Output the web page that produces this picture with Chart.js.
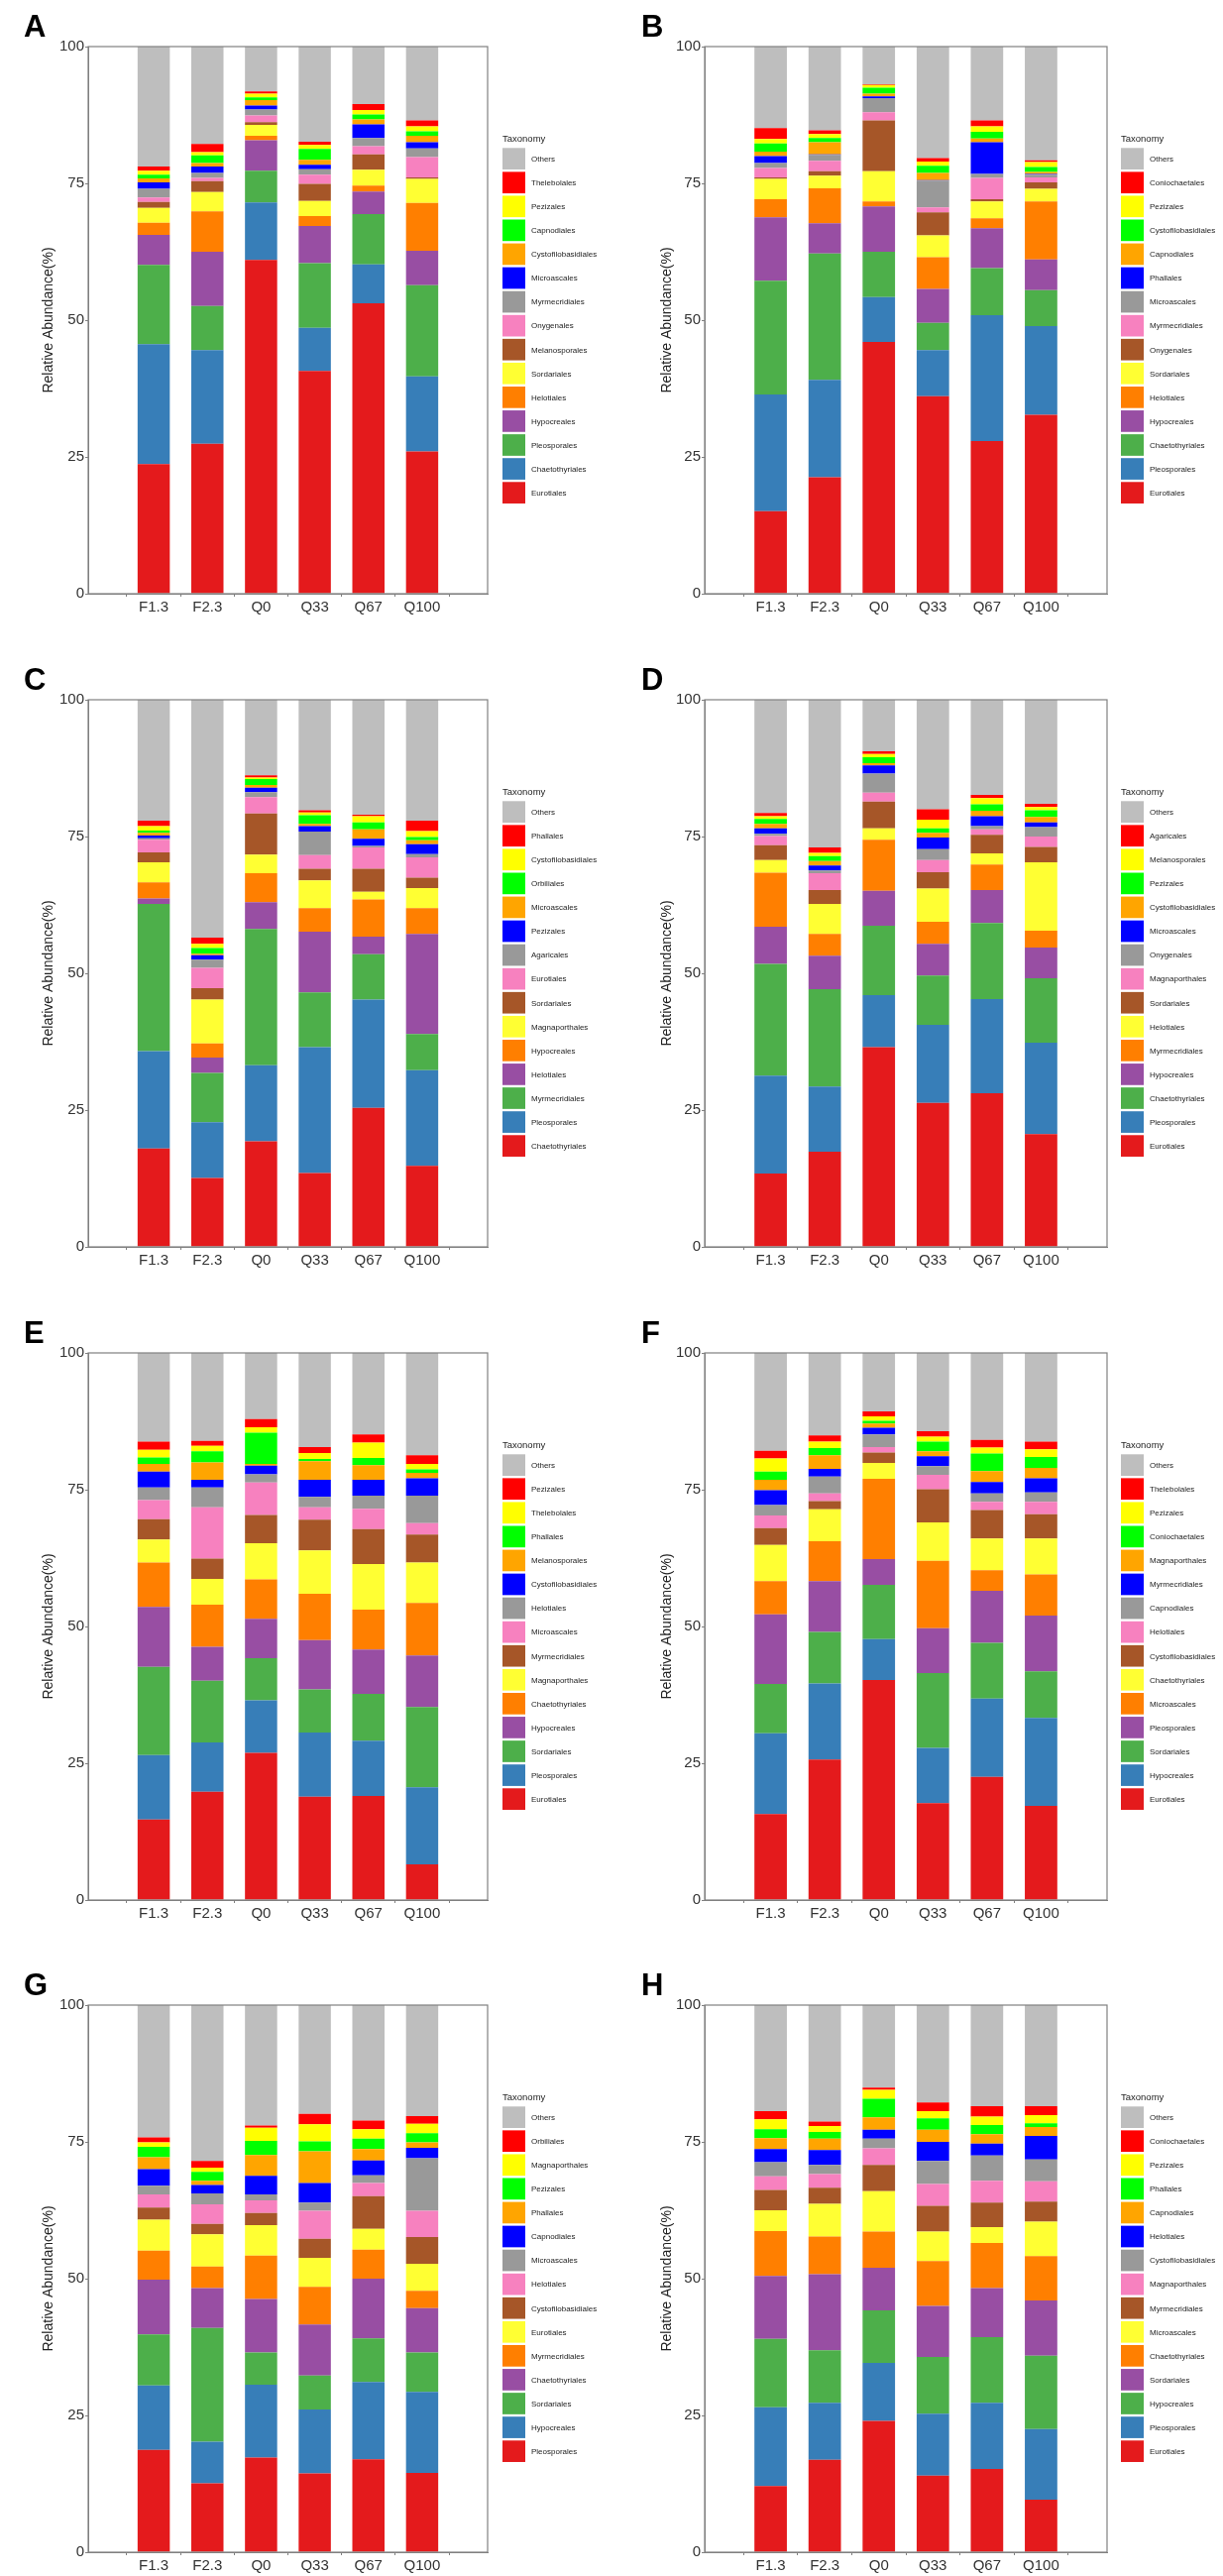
<!DOCTYPE html>
<html>
<head>
<meta charset="utf-8">
<title>Relative abundance by order</title>
<script src="https://cdn.jsdelivr.net/npm/chart.js@4.4.1/dist/chart.umd.min.js"></script>
<style>
  html, body { margin: 0; padding: 0; background: #fff; }
  #page { position: relative; width: 1234px; height: 2599px; overflow: hidden; background: #fff; }
  #page canvas { position: absolute; }
  .tag { position: absolute; font: bold 31px "Liberation Sans", Arial, sans-serif; line-height: 31px; color: #000; }
</style>
</head>
<body>
<div id="page"></div>
<script>
/* ---------- data ---------- */
const samples = ['F1.3', 'F2.3', 'Q0', 'Q33', 'Q67', 'Q100'];
const yTicks = [0, 25, 50, 75, 100];
const panelTags = ['A', 'B', 'C', 'D', 'E', 'F', 'G', 'H'];

// stack colours, bottom to top (last = Others)
const palette = ['#E41A1C', '#377EB8', '#4DAF4A', '#984EA3', '#FF7F00', '#FFFF33', '#A65628', '#F781BF',
                 '#999999', '#0000FF', '#FFA500', '#00FF00', '#FFFF00', '#FF0000', '#BEBEBE'];

// taxa bottom -> top; each bars row = one sample, same order as its taxa list
const taxaA = ['Eurotiales', 'Chaetothyriales', 'Pleosporales', 'Hypocreales', 'Helotiales', 'Sordariales', 'Melanosporales',
  'Onygenales', 'Myrmecridiales', 'Microascales', 'Cystofilobasidiales', 'Capnodiales', 'Pezizales', 'Thelebolales', 'Others'];
const barsA = [
  [23.7, 21.9, 14.5, 5.5, 2.2, 2.7, 1.1, 0.8, 1.6, 1.2, 0.7, 0.7, 0.7, 0.8, 21.9],
  [27.4, 17.1, 8.1, 9.9, 7.4, 3.5, 2.0, 0.6, 0.9, 1.2, 0.6, 1.4, 0.6, 1.5, 17.8],
  [61.0, 10.5, 5.8, 5.6, 0.8, 2.0, 0.5, 1.2, 1.1, 0.7, 1.0, 0.5, 0.7, 0.4, 8.2],
  [40.7, 7.9, 11.8, 6.8, 1.8, 2.8, 3.1, 1.7, 1.0, 0.8, 0.9, 2.0, 0.7, 0.6, 17.4],
  [53.1, 7.1, 9.2, 4.1, 1.1, 2.9, 2.8, 1.5, 1.5, 2.5, 0.9, 0.9, 0.8, 1.1, 10.5],
  [26.0, 13.7, 16.7, 6.3, 8.7, 4.4, 0.3, 3.7, 1.6, 1.1, 1.2, 0.8, 0.9, 1.1, 13.5]
];

const taxaB = ['Eurotiales', 'Pleosporales', 'Chaetothyriales', 'Hypocreales', 'Helotiales', 'Sordariales', 'Onygenales',
  'Myrmecridiales', 'Microascales', 'Phallales', 'Capnodiales', 'Cystofilobasidiales', 'Pezizales', 'Coniochaetales', 'Others'];
const barsB = [
  [15.1, 21.3, 20.8, 11.6, 3.3, 3.7, 0.3, 1.7, 0.9, 1.3, 0.8, 1.5, 0.8, 2.0, 14.9],
  [21.3, 17.8, 23.1, 5.5, 6.4, 2.3, 0.8, 1.9, 1.1, 0.1, 2.2, 0.8, 0.7, 0.7, 15.3],
  [46.0, 8.2, 8.3, 8.3, 0.9, 5.5, 9.3, 1.5, 2.6, 0.3, 0.5, 1.1, 0.5, 0.1, 6.9],
  [36.1, 8.4, 5.0, 6.2, 5.8, 4.0, 4.2, 0.9, 4.9, 0.1, 1.3, 1.3, 0.8, 0.6, 20.4],
  [27.9, 23.0, 8.6, 7.3, 1.8, 3.1, 0.4, 3.9, 0.7, 5.8, 0.7, 1.2, 1.0, 1.1, 13.5],
  [32.7, 16.2, 6.6, 5.6, 10.6, 2.3, 1.2, 0.9, 0.5, 0.1, 0.4, 0.9, 0.9, 0.3, 20.8]
];

const taxaC = ['Chaetothyriales', 'Pleosporales', 'Myrmecridiales', 'Helotiales', 'Hypocreales', 'Magnaporthales', 'Sordariales',
  'Eurotiales', 'Agaricales', 'Pezizales', 'Microascales', 'Orbiliales', 'Cystofilobasidiales', 'Phallales', 'Others'];
const barsC = [
  [18.0, 17.8, 26.9, 1.0, 2.9, 3.7, 1.8, 2.3, 0.3, 0.5, 0.5, 0.4, 0.8, 1.0, 22.1],
  [12.6, 10.2, 9.0, 2.8, 2.6, 8.0, 2.1, 3.7, 1.5, 0.8, 0.3, 1.0, 0.8, 1.1, 43.5],
  [19.3, 13.9, 24.9, 4.9, 5.3, 3.4, 7.5, 3.0, 0.9, 0.8, 0.5, 1.1, 0.3, 0.4, 13.8],
  [13.5, 23.0, 10.0, 11.1, 4.3, 5.1, 2.1, 2.5, 4.3, 1.0, 0.4, 1.6, 0.5, 0.4, 20.2],
  [25.4, 19.8, 8.3, 3.2, 6.8, 1.4, 4.2, 3.9, 0.3, 1.3, 1.7, 1.3, 1.1, 0.3, 21.0],
  [14.8, 17.5, 6.6, 18.3, 4.7, 3.7, 1.9, 3.7, 0.6, 1.8, 0.7, 0.6, 1.1, 1.9, 22.1]
];

const taxaD = ['Eurotiales', 'Pleosporales', 'Chaetothyriales', 'Hypocreales', 'Myrmecridiales', 'Helotiales', 'Sordariales',
  'Magnaporthales', 'Onygenales', 'Microascales', 'Cystofilobasidiales', 'Pezizales', 'Melanosporales', 'Agaricales', 'Others'];
const barsD = [
  [13.4, 17.9, 20.4, 6.8, 9.9, 2.3, 2.7, 1.7, 0.4, 1.0, 0.8, 0.9, 0.5, 0.6, 20.7],
  [17.4, 11.9, 17.8, 6.1, 4.0, 5.5, 2.5, 3.1, 0.5, 0.9, 0.8, 0.9, 0.6, 1.0, 27.0],
  [36.5, 9.5, 12.7, 6.4, 9.3, 2.1, 4.9, 1.6, 3.5, 1.5, 0.4, 1.1, 0.6, 0.5, 9.4],
  [26.3, 14.3, 9.0, 5.8, 4.0, 6.1, 3.0, 2.2, 2.0, 2.1, 0.9, 0.8, 1.6, 1.9, 20.0],
  [28.1, 17.2, 13.9, 6.0, 4.7, 2.0, 3.4, 1.0, 0.6, 1.8, 1.0, 1.2, 1.1, 0.6, 17.4],
  [20.6, 16.7, 11.8, 5.6, 3.1, 12.5, 2.8, 1.9, 1.7, 0.9, 1.0, 1.2, 0.6, 0.6, 19.0]
];

const taxaE = ['Eurotiales', 'Pleosporales', 'Sordariales', 'Hypocreales', 'Chaetothyriales', 'Magnaporthales', 'Myrmecridiales',
  'Microascales', 'Helotiales', 'Cystofilobasidiales', 'Melanosporales', 'Phallales', 'Thelebolales', 'Pezizales', 'Others'];
const barsE = [
  [14.7, 11.8, 16.1, 11.0, 8.1, 4.2, 3.7, 3.5, 2.3, 2.9, 1.4, 1.2, 1.4, 1.5, 16.2],
  [19.8, 9.0, 11.3, 6.2, 7.7, 4.7, 3.7, 9.4, 3.6, 1.4, 3.2, 2.0, 1.0, 0.9, 16.1],
  [26.9, 9.6, 7.7, 7.2, 7.2, 6.6, 5.2, 5.9, 1.5, 1.6, 0.3, 5.7, 1.0, 1.5, 12.1],
  [18.9, 11.7, 7.9, 9.0, 8.5, 7.9, 5.6, 2.3, 1.9, 3.1, 3.4, 0.4, 1.1, 1.1, 17.2],
  [19.0, 10.1, 8.6, 8.1, 7.3, 8.3, 6.4, 3.7, 2.4, 2.9, 2.7, 1.3, 2.8, 1.5, 14.9],
  [6.5, 14.1, 14.7, 9.4, 9.6, 7.4, 5.1, 2.1, 5.0, 3.2, 1.0, 0.6, 1.0, 1.6, 18.7]
];

const taxaF = ['Eurotiales', 'Hypocreales', 'Sordariales', 'Pleosporales', 'Microascales', 'Chaetothyriales', 'Cystofilobasidiales',
  'Helotiales', 'Capnodiales', 'Myrmecridiales', 'Magnaporthales', 'Coniochaetales', 'Pezizales', 'Thelebolales', 'Others'];
const barsF = [
  [15.7, 14.8, 9.0, 12.7, 6.1, 6.6, 3.1, 2.3, 1.9, 2.7, 1.9, 1.5, 2.4, 1.4, 17.9],
  [25.7, 13.9, 9.4, 9.3, 7.3, 5.8, 1.5, 1.4, 3.1, 1.4, 2.5, 1.3, 1.2, 1.1, 15.1],
  [40.2, 7.5, 9.9, 4.7, 14.7, 2.9, 1.9, 1.0, 2.3, 1.2, 0.8, 0.5, 0.8, 0.9, 10.7],
  [17.7, 10.1, 13.7, 8.2, 12.3, 7.0, 6.1, 2.6, 1.6, 1.8, 0.9, 1.8, 0.9, 1.0, 14.3],
  [22.5, 14.3, 10.2, 9.5, 3.8, 5.8, 5.2, 1.5, 1.5, 2.1, 2.0, 3.2, 1.1, 1.4, 15.9],
  [17.2, 16.1, 8.5, 10.2, 7.5, 6.6, 4.4, 2.3, 1.7, 2.6, 1.9, 2.0, 1.4, 1.4, 16.2]
];

const taxaG = ['Pleosporales', 'Hypocreales', 'Sordariales', 'Chaetothyriales', 'Myrmecridiales', 'Eurotiales', 'Cystofilobasidiales',
  'Helotiales', 'Microascales', 'Capnodiales', 'Phallales', 'Pezizales', 'Magnaporthales', 'Orbiliales', 'Others'];
const barsG = [
  [18.7, 11.8, 9.3, 10.0, 5.3, 5.7, 2.2, 2.4, 1.6, 3.0, 2.2, 1.9, 0.8, 0.9, 24.2],
  [12.6, 7.6, 20.8, 7.3, 3.9, 5.9, 1.9, 3.6, 2.0, 1.5, 0.8, 1.6, 0.8, 1.2, 28.5],
  [17.3, 13.3, 5.9, 9.8, 7.9, 5.6, 2.2, 2.3, 1.1, 3.4, 3.8, 2.6, 2.4, 0.4, 22.0],
  [14.4, 11.7, 6.2, 9.3, 6.9, 5.3, 3.5, 5.1, 1.5, 3.6, 5.8, 1.8, 3.1, 1.9, 19.9],
  [17.0, 14.1, 8.0, 10.9, 5.3, 3.8, 6.0, 2.4, 1.4, 2.7, 2.1, 1.9, 1.7, 1.6, 21.1],
  [14.5, 14.8, 7.2, 8.1, 3.2, 4.9, 4.9, 4.8, 9.6, 1.9, 1.0, 1.7, 1.7, 1.4, 20.3]
];

const taxaH = ['Eurotiales', 'Pleosporales', 'Hypocreales', 'Sordariales', 'Chaetothyriales', 'Microascales', 'Myrmecridiales',
  'Magnaporthales', 'Cystofilobasidiales', 'Helotiales', 'Capnodiales', 'Phallales', 'Pezizales', 'Coniochaetales', 'Others'];
const barsH = [
  [12.1, 14.4, 12.5, 11.5, 8.2, 3.8, 3.7, 2.5, 2.6, 2.4, 2.0, 1.6, 1.8, 1.5, 19.4],
  [16.9, 10.4, 9.6, 13.9, 6.9, 6.0, 2.9, 2.5, 1.7, 2.7, 2.1, 1.2, 1.1, 0.8, 21.3],
  [24.0, 10.6, 9.6, 7.8, 6.6, 7.4, 4.8, 3.0, 1.8, 1.6, 2.3, 3.4, 1.6, 0.4, 15.1],
  [14.0, 11.3, 10.4, 9.3, 8.2, 5.4, 4.7, 4.0, 4.2, 3.5, 2.2, 2.1, 1.3, 1.6, 17.8],
  [15.2, 12.1, 12.0, 9.0, 8.2, 2.9, 4.5, 4.0, 4.6, 2.2, 1.7, 1.7, 1.5, 1.9, 18.5],
  [9.6, 12.9, 13.4, 10.1, 8.1, 6.3, 3.7, 3.7, 4.0, 4.3, 1.6, 0.7, 1.5, 1.6, 18.5]
];

const panelTaxa = [taxaA, taxaB, taxaC, taxaD, taxaE, taxaF, taxaG, taxaH];
const panelBars = [barsA, barsB, barsC, barsD, barsE, barsF, barsG, barsH];

/* ---------- layout ---------- */
const FONT = '"Liberation Sans", Arial, Helvetica, sans-serif';
Chart.defaults.font.family = FONT;

const panelW = 617, panelH = 659, rowStep = 658.8;
const colGeom = [
  { left: 89, right: 492, key: 507, text: 536, titlePad: 41, tagX: 24 },
  { left: 94, right: 500, key: 514, text: 543, titlePad: 48, tagX: 30 }
];

// grey box round the plotting area
const frameBox = {
  id: 'frameBox',
  afterDatasetsDraw(chart) {
    const { ctx, chartArea: a } = chart;
    ctx.save();
    ctx.strokeStyle = '#808080';
    ctx.lineWidth = 1.2;
    ctx.strokeRect(a.left, a.top, a.right - a.left, a.bottom - a.top);
    ctx.restore();
  }
};

// ggplot-like legend on the right, Others on top
const sideLegend = {
  id: 'sideLegend',
  afterDraw(chart, args, opts) {
    const ctx = chart.ctx;
    const sets = chart.data.datasets.slice().reverse();
    ctx.save();
    ctx.textBaseline = 'middle';
    ctx.textAlign = 'left';
    ctx.fillStyle = '#222';
    ctx.font = '9.5px ' + FONT;
    ctx.fillText('Taxonomy', opts.key, 140);
    ctx.font = '8px ' + FONT;
    sets.forEach((ds, i) => {
      const y = 149.3 + i * 24.07;
      ctx.fillStyle = ds.backgroundColor;
      ctx.fillRect(opts.key, y, 23, 21.7);
      ctx.fillStyle = '#222';
      ctx.fillText(ds.label, opts.text, y + 11.5);
    });
    ctx.restore();
  }
};

const page = document.getElementById('page');

panelTags.forEach((tag, p) => {
  const col = p % 2, row = Math.floor(p / 2);
  const g = colGeom[col];
  const top = Math.round(row * rowStep);

  const canvas = document.createElement('canvas');
  canvas.width = panelW;
  canvas.height = panelH;
  canvas.style.left = (col * panelW) + 'px';
  canvas.style.top = top + 'px';
  page.appendChild(canvas);

  const label = document.createElement('div');
  label.className = 'tag';
  label.textContent = tag;
  label.style.left = (col * panelW + g.tagX) + 'px';
  label.style.top = (top + 11) + 'px';
  page.appendChild(label);

  const taxa = panelTaxa[p];
  const bars = panelBars[p];

  new Chart(canvas, {
    type: 'bar',
    data: {
      datasets: taxa.map((name, t) => ({
        label: name,
        data: bars.map((b, i) => ({ x: i + 1, y: b[t] })),
        backgroundColor: palette[t],
        borderWidth: 0,
        barPercentage: 0.6,
        categoryPercentage: 1
      }))
    },
    options: {
      responsive: false,
      animation: false,
      events: [],
      devicePixelRatio: 1,
      layout: { padding: { top: 47, bottom: 20, left: 0, right: panelW - g.right } },
      plugins: {
        legend: { display: false },
        tooltip: { enabled: false },
        sideLegend: { key: g.key, text: g.text }
      },
      scales: {
        x: {
          type: 'linear',
          stacked: true,
          min: 0.4,
          max: 6.6,
          afterBuildTicks: s => { s.ticks = samples.map((_, i) => ({ value: i + 1 })); },
          afterFit: s => { s.height = 40; },
          ticks: { callback: v => samples[v - 1], color: '#333', font: { size: 15 }, padding: 2, maxRotation: 0, autoSkip: false },
          grid: { drawOnChartArea: false, tickLength: 3, color: '#808080' },
          border: { color: '#808080' }
        },
        y: {
          stacked: true,
          min: 0,
          max: 100,
          afterBuildTicks: s => { s.ticks = yTicks.map(v => ({ value: v })); },
          afterFit: s => { s.width = g.left; },
          ticks: { color: '#333', font: { size: 15 }, padding: 1 },
          grid: { drawOnChartArea: false, tickLength: 3, color: '#808080' },
          border: { color: '#808080' },
          title: { display: true, text: 'Relative Abundance(%)', color: '#222', font: { size: 14 }, padding: { top: g.titlePad, bottom: 0 } }
        }
      }
    },
    plugins: [frameBox, sideLegend]
  });
});
</script>
</body>
</html>
